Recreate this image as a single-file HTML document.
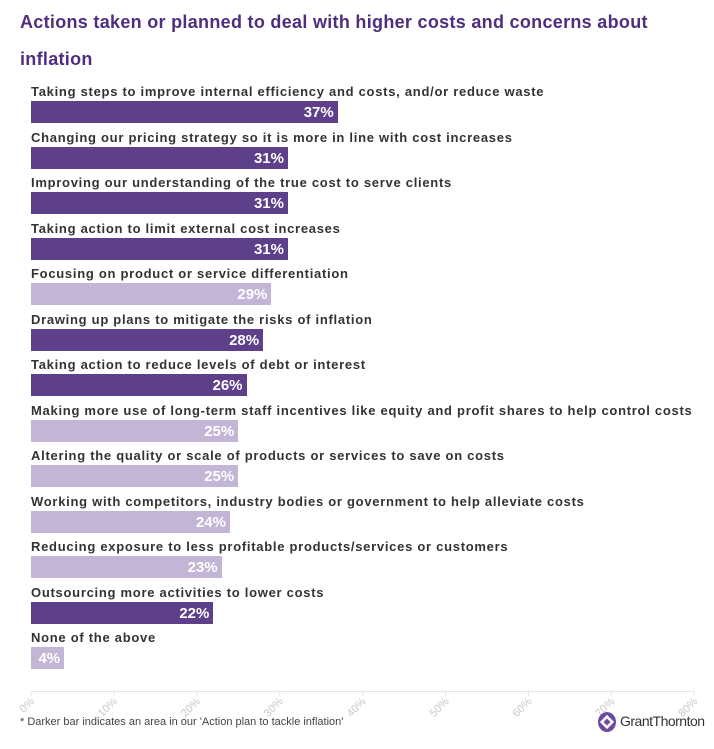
<!DOCTYPE html>
<html><head><style>
body{margin:0;width:714px;height:749px;background:#fff;font-family:"Liberation Sans",sans-serif;position:relative;overflow:hidden}
.t{position:absolute;left:20px;font-size:18px;font-weight:bold;color:#4f2d7f;letter-spacing:0.3px}
.l{position:absolute;left:31px;font-size:13px;font-weight:bold;color:#333;white-space:nowrap;line-height:16px;letter-spacing:0.72px}
.b{position:absolute;left:31px;height:22px;color:#fff;font-weight:bold;font-size:15px;text-align:right;box-sizing:border-box;padding-right:4px;line-height:24px}
.d{background:#5e3f8a}.g{background:#c3b5d6}
</style></head><body>
<div class="t" style="top:12px">Actions taken or planned to deal with higher costs and concerns about</div>
<div class="t" style="top:49px">inflation</div>
<div id="c"></div>
<div style="position:absolute;left:31px;top:691px;width:663px;height:1px;background:#e6e6e6"></div>
<svg id="ax" style="position:absolute;left:0;top:0" width="714" height="749"></svg>
<div style="position:absolute;left:20px;top:716px;font-size:11px;color:#444">* Darker bar indicates an area in our 'Action plan to tackle inflation'</div>
<svg style="position:absolute;left:597px;top:711px" width="20" height="22"><ellipse cx="10" cy="11" rx="9" ry="10" fill="#6b4aa0"/><rect x="5" y="6" width="10" height="10" transform="rotate(45 10 11)" fill="#fff"/><rect x="7.5" y="8.5" width="5" height="5" transform="rotate(45 10 11)" fill="#6b4aa0"/></svg>
<div style="position:absolute;left:620px;top:713px;font-size:14px;color:#333;letter-spacing:-0.5px">GrantThornton</div>
<script>
var d=[["Taking steps to improve internal efficiency and costs, and/or reduce waste",37,1],
["Changing our pricing strategy so it is more in line with cost increases",31,1],
["Improving our understanding of the true cost to serve clients",31,1],
["Taking action to limit external cost increases",31,1],
["Focusing on product or service differentiation",29,0],
["Drawing up plans to mitigate the risks of inflation",28,1],
["Taking action to reduce levels of debt or interest",26,1],
["Making more use of long-term staff incentives like equity and profit shares to help control costs",25,0],
["Altering the quality or scale of products or services to save on costs",25,0],
["Working with competitors, industry bodies or government to help alleviate costs",24,0],
["Reducing exposure to less profitable products/services or customers",23,0],
["Outsourcing more activities to lower costs",22,1],
["None of the above",4,0]];
var h="",s=8.29,sv="";
d.forEach(function(r,i){var y=92+i*45.5;
h+='<div class="l" style="top:'+(y-8)+'px">'+r[0]+'</div>';
h+='<div class="b '+(r[2]?'d':'g')+'" style="top:'+(y+9)+'px;width:'+(r[1]*s)+'px">'+r[1]+'%</div>';});
for(var k=0;k<=8;k++){var x=31+k*82.9;
sv+='<line x1="'+x+'" y1="691" x2="'+x+'" y2="696" stroke="#e6e6e6"/>';
sv+='<text x="'+(x+4)+'" y="702" text-anchor="end" font-size="11" fill="#c8c8c8" transform="rotate(-45 '+(x+4)+' 702)">'+(k*10)+'%</text>';}
document.getElementById("c").innerHTML=h;
document.getElementById("ax").innerHTML=sv;
</script>
</body></html>
